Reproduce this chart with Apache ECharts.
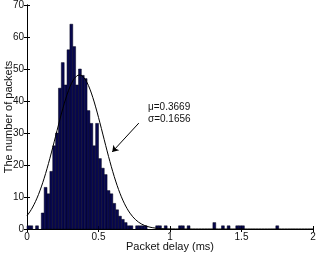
<!DOCTYPE html>
<html>
<head>
<meta charset="utf-8">
<script src="https://cdn.jsdelivr.net/npm/echarts@6/dist/echarts.min.js"></script>
<style>
  html, body { margin: 0; padding: 0; background: #fff; }
  #chart { width: 324px; height: 256px; }
</style>
</head>
<body>
<div id="chart"></div>
<script>
// histogram bins (start of each 0.02 ms bin) and packet counts
const binWidth = 0.02;
const binStarts = [
  0.00, 0.02, 0.06, 0.10, 0.12, 0.14, 0.16, 0.18, 0.20, 0.22,
  0.24, 0.26, 0.28, 0.30, 0.32, 0.34, 0.36, 0.38, 0.40, 0.42,
  0.44, 0.46, 0.48, 0.50, 0.52, 0.54, 0.56, 0.58, 0.60, 0.62,
  0.64, 0.66, 0.68, 0.70, 0.72, 0.76, 0.78, 0.80, 0.82, 0.90,
  0.92, 0.96, 1.06, 1.08, 1.12, 1.30, 1.36, 1.40, 1.46, 1.48,
  1.50, 1.74
];
const counts = [
  1, 1, 1, 5, 13, 11, 18, 26, 30, 44,
  52, 45, 56, 64, 57, 45, 50, 48, 47, 37,
  33, 26, 33, 22, 19, 17, 12, 11, 8, 6,
  4, 3, 2, 1, 1, 1, 1, 1, 1, 1,
  1, 1, 1, 1, 1, 2, 1, 1, 1, 1,
  1, 1
];

// fitted normal distribution
const mu = 0.3669;
const sigma = 0.1656;
const totalPackets = 1000;

const xTicks = [0, 0.5, 1, 1.5, 2];
const yTicks = [0, 10, 20, 30, 40, 50, 60, 70];

const histData = binStarts.map((s, i) => [s, s + binWidth, counts[i]]);

const fitData = [];
for (let k = 0; k <= 200; k++) {
  const x = k / 100;
  const z = (x - mu) / sigma;
  const y = totalPackets * binWidth / (sigma * Math.sqrt(2 * Math.PI)) * Math.exp(-0.5 * z * z);
  fitData.push([x, y]);
}

const chart = echarts.init(document.getElementById("chart"));
const font = "Liberation Sans, Arial, sans-serif";

const baseAxis = {
  axisLine: { show: true, lineStyle: { color: "#000", width: 1 } },
  axisTick: { show: true, inside: true, length: 3, lineStyle: { color: "#000" } },
  splitLine: { show: false },
};

chart.setOption({
  animation: false,
  grid: { left: 27, right: 11, top: 5, bottom: 27, containLabel: false, outerBoundsMode: "none" },
  xAxis: [
    {
      ...baseAxis,
      type: "value",
      min: xTicks[0],
      max: xTicks[xTicks.length - 1],
      interval: 0.5,
      name: "Packet delay (ms)",
      nameLocation: "middle",
      nameGap: 12,
      nameMoveOverlap: false,
      nameTextStyle: { fontFamily: font, fontSize: 11, color: "#111" },
      axisLabel: { fontFamily: font, fontSize: 10, color: "#111", margin: 3 },
    },
    {
      ...baseAxis,
      type: "value",
      position: "top",
      min: xTicks[0],
      max: xTicks[xTicks.length - 1],
      interval: 0.5,
      axisLabel: { show: false },
    },
  ],
  yAxis: [
    {
      ...baseAxis,
      type: "value",
      min: yTicks[0],
      max: yTicks[yTicks.length - 1],
      interval: 10,
      name: "The number of packets",
      nameLocation: "middle",
      nameGap: 13,
      nameMoveOverlap: false,
      nameTextStyle: { fontFamily: font, fontSize: 11, color: "#111" },
      axisLabel: { fontFamily: font, fontSize: 10, color: "#111", margin: 3 },
    },
    {
      ...baseAxis,
      type: "value",
      position: "right",
      min: yTicks[0],
      max: yTicks[yTicks.length - 1],
      interval: 10,
      axisLabel: { show: false },
    },
  ],
  series: [
    {
      type: "custom",
      data: histData,
      renderItem: function (params, api) {
        const p0 = api.coord([api.value(0), api.value(2)]);
        const p1 = api.coord([api.value(1), 0]);
        return {
          type: "rect",
          shape: { x: p0[0], y: p0[1], width: p1[0] - p0[0], height: p1[1] - p0[1] },
          style: { fill: "#08084f", stroke: "#000018", lineWidth: 0.5 },
        };
      },
      encode: { x: [0, 1], y: 2 },
    },
    {
      type: "line",
      data: fitData,
      showSymbol: false,
      lineStyle: { color: "#000", width: 1 },
      markLine: {
        silent: true,
        symbol: ["none", "arrow"],
        symbolSize: 6,
        label: { show: false },
        lineStyle: { color: "#000", width: 1, type: "solid" },
        data: [[{ coord: [0.782, 33.1] }, { coord: [0.596, 24.1] }]],
      },
    },
  ],
  graphic: [
    {
      type: "text",
      left: 148,
      top: 101,
      style: { text: "μ=0.3669\nσ=0.1656", font: "10px " + font, fill: "#111", lineHeight: 12 },
    },
  ],
});
</script>
</body>
</html>
